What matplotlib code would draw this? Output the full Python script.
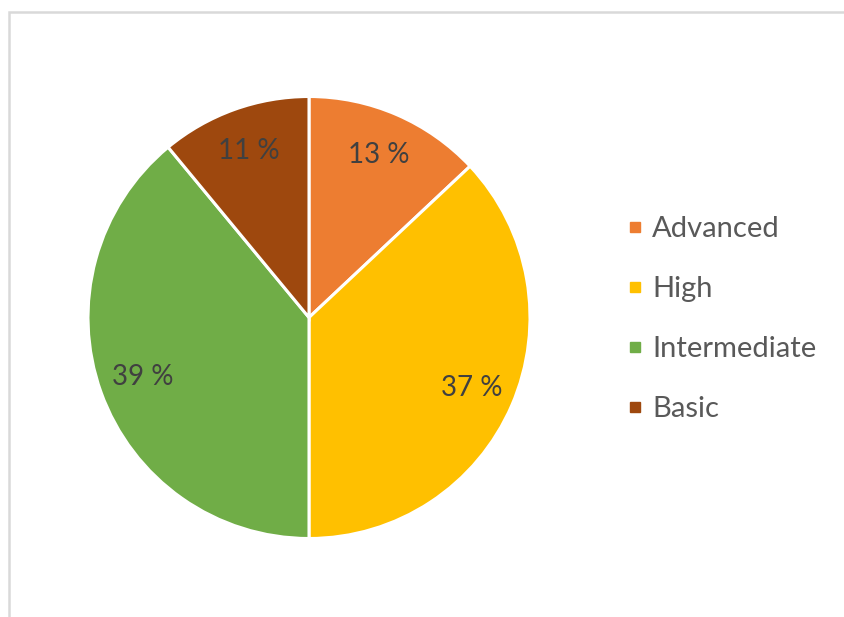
import matplotlib
matplotlib.use("Agg")
import matplotlib.pyplot as plt
from matplotlib.lines import Line2D
from matplotlib.patches import Rectangle

# données
categories = ["Advanced", "High", "Intermediate", "Basic"]
shares = [13, 37, 39, 11]
colors = ["#ED7D31", "#FFC000", "#70AD47", "#9E480E"]

plt.rcParams["font.family"] = ["Lato", "DejaVu Sans"]

W, H = 844, 617
fig = plt.figure(figsize=(W / 100, H / 100), dpi=100)

# cadre gris du graphique (coin haut gauche seulement visible)
fig.patches.append(Rectangle((9 / W, -0.1), 1.2, (H - 12) / H + 0.1,
                             transform=fig.transFigure, fill=False,
                             edgecolor="#D9D9D9", linewidth=1.8))

ax = fig.add_axes([88 / W, 78 / H, 442 / W, 443 / H])
wedges, texts, autotexts = ax.pie(
    shares, colors=colors, startangle=90, counterclock=False,
    autopct=lambda p: f"{p:.0f} %", pctdistance=0.8,
    wedgeprops=dict(edgecolor="white", linewidth=2.2),
    textprops=dict(color="#404040", fontsize=20),
)
ax.set_xlim(-1, 1)
ax.set_ylim(-1, 1)
ax.set_aspect("equal")
ax.axis("off")

handles = [Line2D([], [], marker="s", linestyle="", color=c, markersize=7)
           for c in colors]
fig.legend(handles, categories, loc="center left",
           bbox_to_anchor=(617 / W, (H - 319) / H), frameon=False,
           borderaxespad=0, handlelength=0.4, handletextpad=0.4,
           labelspacing=1.17, fontsize=21, labelcolor="#595959")

fig.savefig("out.png", dpi=100)
